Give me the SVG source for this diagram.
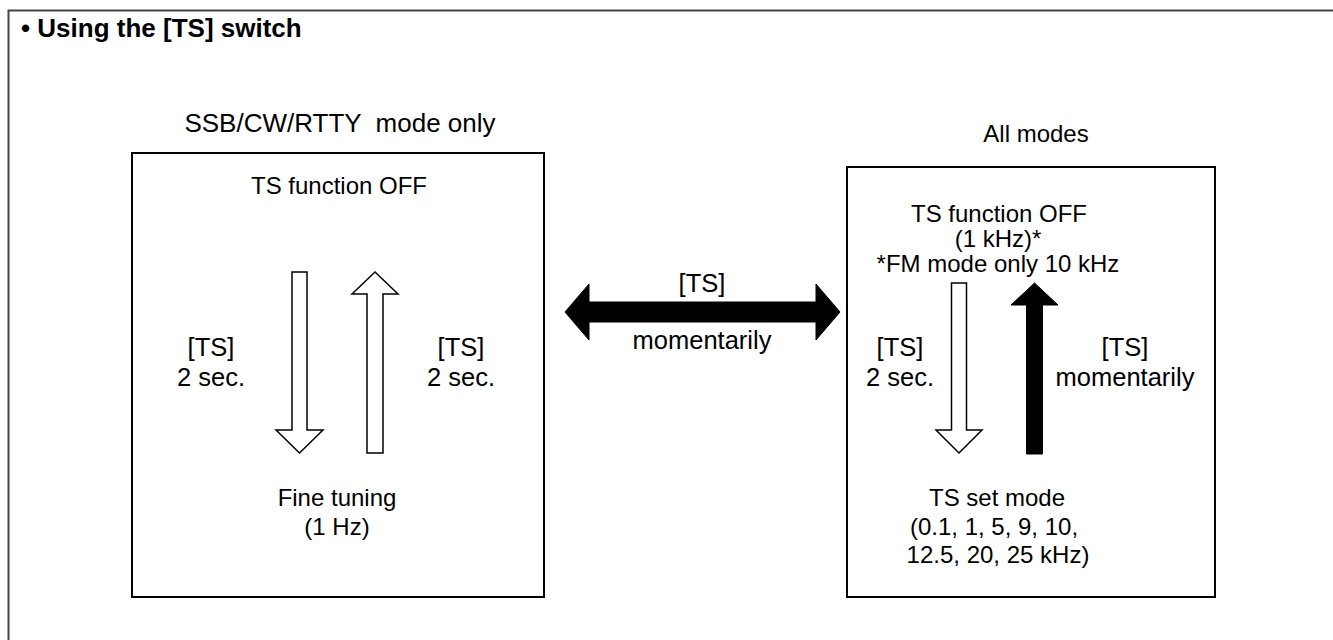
<svg xmlns="http://www.w3.org/2000/svg" width="1333" height="640" viewBox="0 0 1333 640">
<style>
text{font-family:"Liberation Sans",Arial,sans-serif;fill:#000;text-anchor:middle;white-space:pre}
.title{font-weight:bold;font-size:26px;text-anchor:start}
.hd{font-size:26px}
.bx{font-size:24px}
.lb{font-size:25.5px}
.box{fill:#fff;stroke:#000;stroke-width:2}
.wa{fill:#fff;stroke:#000;stroke-width:1.5}
.ba{fill:#000;stroke:#000;stroke-width:1}
</style>
<rect x="0" y="0" width="1333" height="640" fill="#fff"/>
<rect x="8.5" y="10.5" width="1400" height="700" fill="none" stroke="#444" stroke-width="2"/>
<text class="title" x="21" y="37">• Using the [TS] switch</text>

<g id="left-node">
<text class="hd" x="340" y="132" xml:space="preserve">SSB/CW/RTTY  mode only</text>
<rect class="box" x="132" y="153" width="412" height="444"/>
<text class="bx" x="339" y="194">TS function OFF</text>
<text class="bx" x="337" y="506">Fine tuning</text>
<text class="bx" x="337" y="535">(1 Hz)</text>
</g>

<g id="right-node">
<text class="bx" x="1036" y="142">All modes</text>
<rect class="box" x="847" y="167" width="368" height="430"/>
<text class="bx" x="999" y="222">TS function OFF</text>
<text class="bx" x="998" y="247">(1 kHz)*</text>
<text class="bx" x="998" y="272">*FM mode only 10 kHz</text>
<text class="bx" x="997" y="506">TS set mode</text>
<text class="bx" x="994" y="535">(0.1, 1, 5, 9, 10,</text>
<text class="bx" x="998" y="563">12.5, 20, 25 kHz)</text>
</g>

<g id="connectors">
<polygon class="wa" points="292,272 307,272 307,430 323,430 299.5,453 276,430 292,430"/>
<polygon class="wa" points="375,272 398,294 383,294 383,453 367,453 367,294 352,294"/>
<polygon class="wa" points="951.5,283 966.5,283 966.5,430 982,430 959,453 936,430 951.5,430"/>
<polygon class="ba" points="1034.5,283 1058,305 1042.5,305 1042.5,454 1026.5,454 1026.5,305 1011,305"/>
<polygon class="ba" points="565,312 589,284 589,302 816,302 816,284 840,312 816,340 816,322 589,322 589,340"/>
<text class="lb" x="211" y="356">[TS]</text>
<text class="lb" x="211" y="386">2 sec.</text>
<text class="lb" x="461" y="356">[TS]</text>
<text class="lb" x="461" y="386">2 sec.</text>
<text class="lb" x="900" y="356">[TS]</text>
<text class="lb" x="900" y="386">2 sec.</text>
<text class="lb" x="1125" y="356">[TS]</text>
<text class="lb" x="1125" y="386">momentarily</text>
<text class="lb" x="702" y="292">[TS]</text>
<text class="lb" x="702" y="349">momentarily</text>
</g>
</svg>
